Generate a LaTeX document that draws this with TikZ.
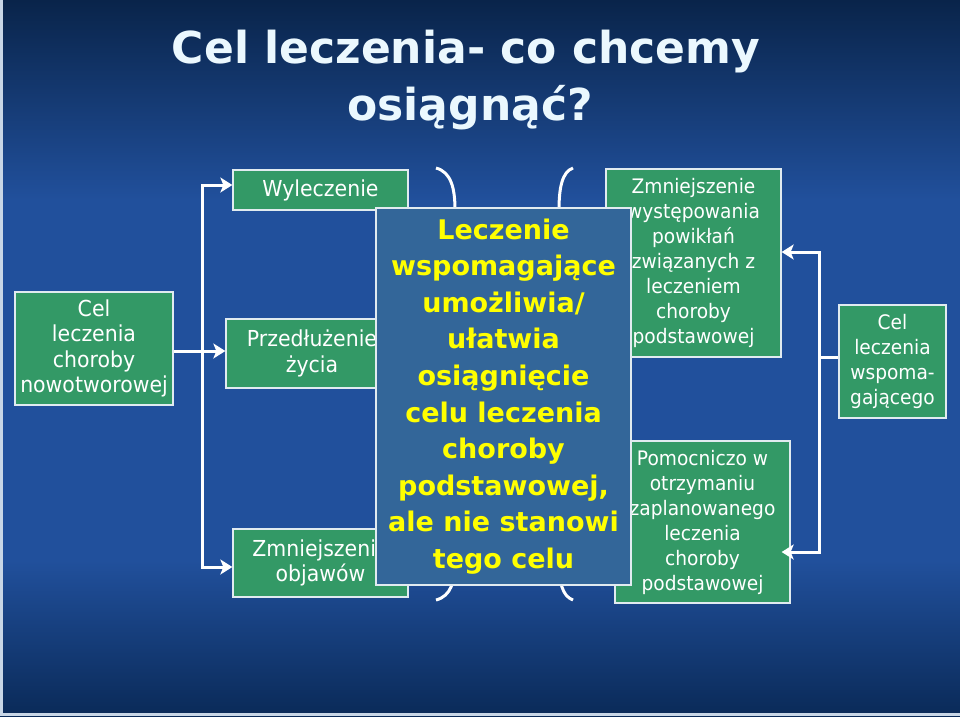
\documentclass[tikz,border=0pt]{standalone}
\usepackage{fontspec}
\setmainfont{DejaVu Sans}
\newfontfamily\boxfont[FakeStretch=0.93]{DejaVu Sans}
\usetikzlibrary{arrows.meta, positioning}

\definecolor{bgtop}{RGB}{9,36,74}
\definecolor{bgmid}{RGB}{33,80,156}
\definecolor{bgbot}{RGB}{10,42,88}
\definecolor{bgedge}{RGB}{200,214,230}
\definecolor{boxgreen}{RGB}{51,153,102}
\definecolor{boxblue}{RGB}{51,102,153}
\definecolor{boxline}{RGB}{225,235,240}
\definecolor{hiyellow}{RGB}{255,255,0}

\begin{document}
\begin{tikzpicture}[x=1pt, y=-1pt,
		goalbox/.style={rectangle, draw=boxline, line width=1.3pt, fill=boxgreen, text=white, inner sep=0pt, align=center, font=\boxfont\fontsize{20}{25}\selectfont},
		maingoal/.style={goalbox, font=\boxfont\fontsize{22}{25.5}\selectfont},
		supportbox/.style={rectangle, draw=boxline, line width=1.3pt, fill=boxblue, text=hiyellow, inner sep=0pt, align=center, font=\bfseries\fontsize{27}{36.6}\selectfont},
		titletext/.style={anchor=base, text=white!92!cyan, font=\bfseries\fontsize{44}{50}\selectfont},
		conn/.style={draw=white, line width=3pt},
		arr/.style={conn, -{Stealth[length=12pt, width=15pt, inset=3pt]}}
		]
		\useasboundingbox (0,0) rectangle (960,716);
		\fill[bgmid] (0,0) rectangle (960,716);
		\shade[top color=bgtop, bottom color=bgmid] (0,0) rectangle (960,200);
		\shade[top color=bgmid, bottom color=bgbot] (0,560) rectangle (960,716);
		\fill[bgedge] (0,0) rectangle (3,716);
		\fill[bgedge] (0,713) rectangle (960,716);
		
		\node [titletext] (title1) at (466,63) {Cel leczenia- co chcemy};
		\node [titletext] (title2) at (470,120) {osiągnąć?};
		
		\node [maingoal, minimum width=158pt, minimum height=113pt] (cel) at (94,348.5) {Cel\\leczenia\\choroby\\nowotworowej};
		\node [maingoal, minimum width=175pt, minimum height=40pt] (wyl) at (320.5,190) {Wyleczenie};
		\node [maingoal, minimum width=172pt, minimum height=69pt] (prz) at (312,353.5) {Przedłużenie\\życia};
		\node [maingoal, minimum width=175pt, minimum height=68pt] (zmo) at (320.5,563) {Zmniejszenie\\objawów};
		\node [goalbox, minimum width=175pt, minimum height=188pt] (powik) at (693.5,263) {Zmniejszenie\\występowania\\powikłań\\związanych z\\leczeniem\\choroby\\podstawowej};
		\node [goalbox, minimum width=175pt, minimum height=162pt] (pomoc) at (702.5,522) {Pomocniczo w\\otrzymaniu\\zaplanowanego\\leczenia\\choroby\\podstawowej};
		\node [goalbox, minimum width=107pt, minimum height=113pt] (celw) at (892.5,361.5) {Cel\\leczenia\\wspoma-\\gającego};
		
		\coordinate (lsplit) at (202,351);
		\coordinate (rsplit) at (819,357);
		\draw [conn] (cel.east |- lsplit) -- (lsplit);
		\draw [arr] (lsplit) |- ([yshift=5pt]wyl.west);
		\draw [arr] (lsplit) -- (lsplit -| prz.west);
		\draw [arr] (lsplit) |- ([yshift=-4pt]zmo.west);
		\draw [conn] (celw.west |- rsplit) -- (rsplit);
		\draw [arr] (rsplit) |- ([yshift=11pt]powik.east);
		\draw [arr] (rsplit) |- ([xshift=-9pt, yshift=-30pt]pomoc.east);
		
		\draw [conn] (436,168) .. controls (451,172) and (455,188) .. (455,210) -- (455,560) .. controls (455,582) and (451,596) .. (436,600);
		\draw [conn] (573,168) .. controls (562,172) and (559,188) .. (559,210) -- (559,560) .. controls (559,582) and (562,596) .. (573,600);
		
		\node [supportbox, minimum width=255pt, minimum height=377pt] (wsp) at (503.5,396.5) {Leczenie\\wspomagające\\umożliwia/\\ułatwia\\osiągnięcie\\celu leczenia\\choroby\\podstawowej,\\ale nie stanowi\\tego celu};
\end{tikzpicture}
\end{document}
